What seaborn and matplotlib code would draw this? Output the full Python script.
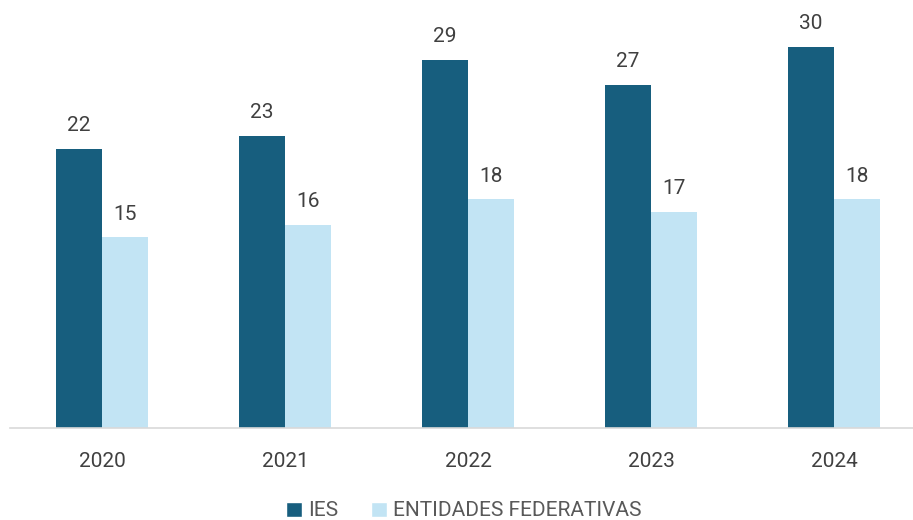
import matplotlib
matplotlib.use("Agg")
import matplotlib.pyplot as plt
import seaborn as sns
import pandas as pd
from matplotlib.patches import Patch

years = ["2020", "2021", "2022", "2023", "2024"]
ies = [22, 23, 29, 27, 30]
entidades = [15, 16, 18, 17, 18]
series_names = ["IES", "ENTIDADES FEDERATIVAS"]
colors = ["#175e7e", "#c2e4f4"]

df = pd.DataFrame({
    "year": years * 2,
    "value": ies + entidades,
    "serie": [series_names[0]] * len(years) + [series_names[1]] * len(years),
})

sns.set_theme(style="white")
plt.rcParams["font.family"] = ["Roboto", "DejaVu Sans"]

fig = plt.figure(figsize=(9.13, 5.2), dpi=100)
ax = fig.add_axes([10 / 913, 92 / 520, 903 / 913, 428 / 520])

sns.barplot(data=df, x="year", y="value", hue="serie", palette=colors,
            width=0.503, gap=0, ax=ax, legend=False, saturation=1,
            linewidth=0, edgecolor="none")

for c in ax.containers:
    ax.bar_label(c, padding=10, fontsize=15, color="#404040")

ax.set_ylim(0, 33.7)
ax.set_xlim(-0.503, 4.432)
ax.set_xlabel("")
ax.set_ylabel("")
ax.set_yticks([])
for s in ["top", "right", "left"]:
    ax.spines[s].set_visible(False)
ax.spines["bottom"].set_color("#d9d9d9")
ax.spines["bottom"].set_linewidth(1.2)
ax.tick_params(axis="x", length=0, pad=17, labelsize=15, labelcolor="#404040")

handles = [Patch(facecolor=colors[0]), Patch(facecolor=colors[1])]
fig.legend(handles, series_names, loc="center", ncol=2,
           bbox_to_anchor=(464 / 913, 1 - 511 / 520), frameon=False,
           fontsize=15, labelcolor="#595959", handlelength=0.75,
           handleheight=0.75, handletextpad=0.3, columnspacing=1.6,
           borderpad=0)

fig.savefig("out.png", dpi=100)
